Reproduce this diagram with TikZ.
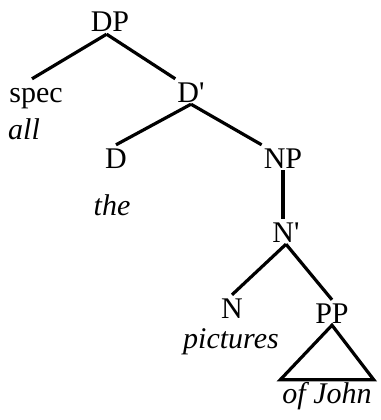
\documentclass[tikz,border=0pt]{standalone}
\usepackage{fontspec}
\setmainfont{Liberation Serif}
\usepackage{tikz}

\begin{document}
\begin{tikzpicture}[
  x=1pt,
  y=-1pt
]

  \path[use as bounding box] (0,0) rectangle (380,420);

  \tikzstyle{catnode}=[inner sep=2pt,text height=21pt,text depth=0pt,anchor=base,font=\fontsize{30}{32}\selectfont]
  \tikzstyle{wordnode}=[catnode,font=\fontsize{30}{32}\selectfont\itshape]
  \tikzstyle{branch}=[draw,line width=3.2pt]

  % nodes
  \node[catnode] (DP) at (110,32) {DP};
  \node[catnode] (spec) at (36,102) {spec};
  \node[wordnode] (all) at (24,139) {all};
  \node[catnode] (Dbar) at (191,102) {D\textquotesingle};
  \node[catnode] (D) at (116,168) {D};
  \node[wordnode] (the) at (112,215) {the};
  \node[catnode] (NP) at (283,168) {NP};
  \node[catnode] (Nbar) at (286,242) {N\textquotesingle};
  \node[catnode] (N) at (232,318) {N};
  \node[wordnode] (pictures) at (231,348) {pictures};
  \node[catnode] (PP) at (332,323) {PP};
  \node[wordnode] (ofJohn) at (327,403) {of John};

  % branches
  \draw[branch] (DP.255) -- ([xshift=-4pt]spec.north);
  \draw[branch] (DP.255) -- (Dbar.north west);
  \draw[branch] (Dbar.south) -- (D.north);
  \draw[branch] (Dbar.south) -- (NP.north west);
  \draw[branch] (NP.south) -- (NP.south |- Nbar.north);
  \draw[branch] (Nbar.south) -- (N.north);
  \draw[branch] (Nbar.south) -- (PP.north);

  % roof over the PP
  \draw[branch] (PP.south) -- (ofJohn.north west) -- (ofJohn.north east) -- cycle;

\end{tikzpicture}
\end{document}
